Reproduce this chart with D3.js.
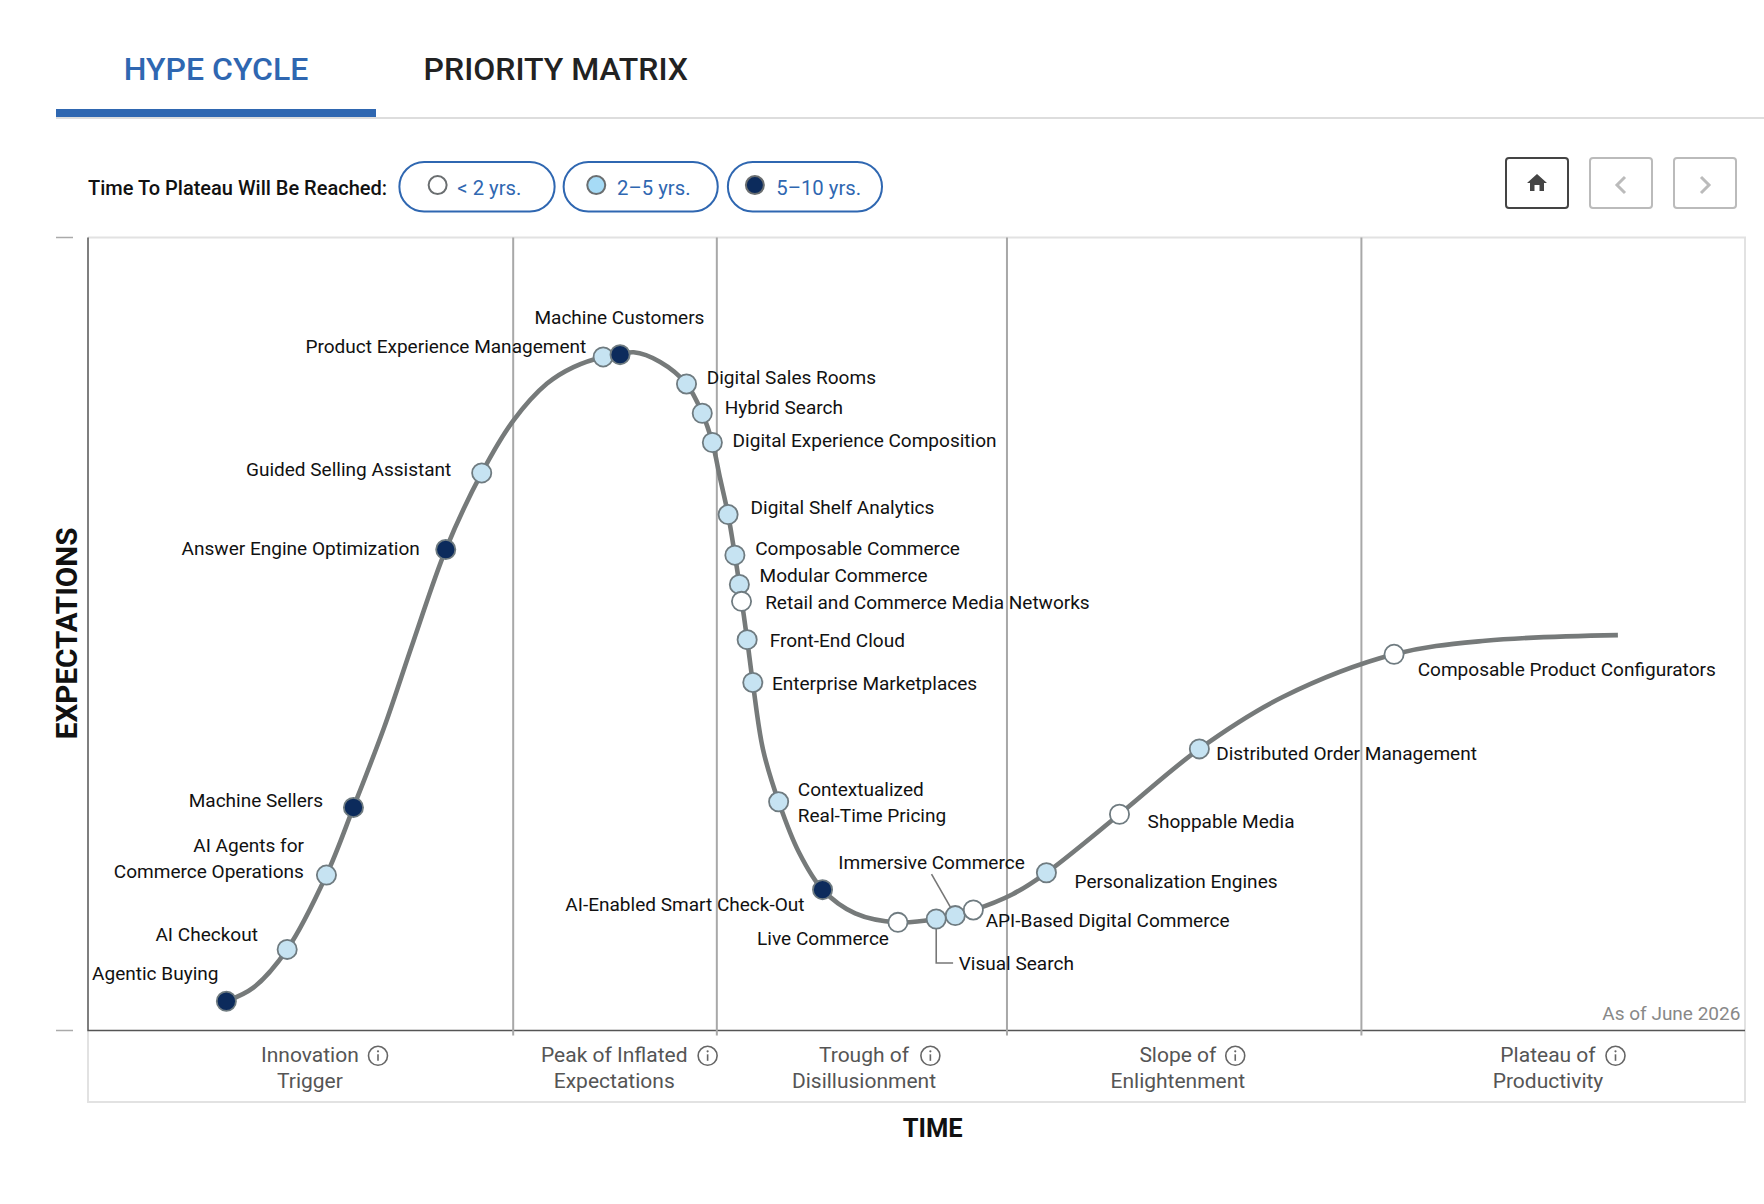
<!DOCTYPE html>
<html>
<head>
<meta charset="utf-8">
<script src="https://cdn.jsdelivr.net/npm/d3@7"></script>
<style>
body { margin: 0; background: #fff; }
svg { display: block; font-family: Roboto, sans-serif; }
</style>
</head>
<body>
<svg id="chart" width="1764" height="1204"></svg>
<script>
// the hype curve, time and expectations both 0-100
const curveX = [8.35, 9.98, 12.02, 14.39, 16.02, 17.87, 19.65, 21.59, 23.76, 25.68, 27.70, 29.30, 31.09, 32.11, 32.93, 34.53, 36.12, 37.07, 37.68, 38.15, 38.63, 39.04, 39.31, 39.78, 40.12, 40.73, 41.68, 42.91, 44.33, 46.30, 48.88, 51.19, 53.43, 55.80, 57.84, 62.25, 67.07, 72.10, 78.82, 84.32, 92.33];
const curveY = [3.69, 5.40, 10.23, 19.60, 28.13, 38.21, 49.16, 60.65, 70.31, 76.94, 81.58, 83.66, 84.94, 85.23, 85.52, 84.30, 81.53, 77.84, 74.15, 69.60, 65.06, 59.94, 56.25, 49.29, 43.89, 35.51, 28.84, 22.44, 17.76, 14.77, 13.64, 14.06, 15.20, 17.19, 19.89, 27.27, 35.51, 42.05, 47.44, 49.15, 49.86];

const techNames = ["Agentic Buying", "AI Checkout", "AI Agents for\nCommerce Operations", "Machine Sellers", "Answer Engine Optimization", "Guided Selling Assistant", "Product Experience Management", "Machine Customers", "Digital Sales Rooms", "Hybrid Search", "Digital Experience Composition", "Digital Shelf Analytics", "Composable Commerce", "Modular Commerce", "Retail and Commerce Media Networks", "Front-End Cloud", "Enterprise Marketplaces", "Contextualized\nReal-Time Pricing", "AI-Enabled Smart Check-Out", "Live Commerce", "Visual Search", "Immersive Commerce", "API-Based Digital Commerce", "Personalization Engines", "Shoppable Media", "Distributed Order Management", "Composable Product Configurators"];
const techX = [8.35, 12.02, 14.39, 16.02, 21.59, 23.76, 31.09, 32.11, 36.12, 37.07, 37.68, 38.63, 39.04, 39.31, 39.44, 39.78, 40.12, 41.68, 44.33, 48.88, 51.19, 52.34, 53.43, 57.84, 62.25, 67.07, 78.82];
const techY = [3.69, 10.23, 19.60, 28.13, 60.65, 70.31, 84.94, 85.23, 81.53, 77.84, 74.15, 65.06, 59.94, 56.25, 54.12, 49.29, 43.89, 28.84, 17.76, 13.64, 14.06, 14.49, 15.20, 19.89, 27.27, 35.51, 47.44];
// 0 = < 2 yrs, 1 = 2-5 yrs, 2 = 5-10 yrs
const techPlateau = [2, 1, 1, 2, 2, 1, 1, 2, 1, 1, 1, 1, 1, 1, 0, 1, 1, 1, 2, 0, 1, 1, 0, 1, 0, 1, 0];

const phaseBounds = [25.66, 37.95, 55.46, 76.85];
const phaseNames = [["Innovation", "Trigger"], ["Peak of Inflated", "Expectations"], ["Trough of", "Disillusionment"], ["Slope of", "Enlightenment"], ["Plateau of", "Productivity"]];
const plateauLabels = ["< 2 yrs.", "2–5 yrs.", "5–10 yrs."];

// label placement, offset from the marker, measured on the 1568 wide view
const labelDx = [-7, -26, -20, -27, -23, -27, -15, 75, 18, 20, 18, 20, 18, 18, 21, 20, 17, 17, -16, -8, 20, -104, 11, 25, 25, 15, 21];
const labelDy = [-25, -13, -26, -6, -1, -3, -9, -33, -6, -5, -2, -6, -6, -8, 1, 1, 1, -11, 13, 14, 39, -47, 9, 8, 6, 4, 13];
const labelEnd = [1, 1, 1, 1, 1, 1, 1, 1, 0, 0, 0, 0, 0, 0, 0, 0, 0, 0, 1, 1, 0, 0, 0, 0, 0, 0, 0];

const k = 1.125; // view px -> page px
const blue = "#2f67b1", lineGrey = "#767a7a", labelFont = 19.05;
const fills = ["#ffffff", "#c6e3f2", "#0c2b5c"];
const legendFills = ["#ffffff", "#a6dbf6", "#0c2b5c"];

const svg = d3.select("#chart");
const left = 88, right = 1745, top_ = 237.5, bottom = 1030.5, panelBottom = 1102;
const x = d3.scaleLinear().domain([0, 100]).range([left, right]);
const y = d3.scaleLinear().domain([0, 100]).range([bottom, top_]);

// tabs
svg.append("text").attr("x", 192 * k).attr("y", 61 * k).attr("dy", ".35em").attr("text-anchor", "middle")
	.attr("font-size", 32).attr("font-weight", 500).attr("fill", blue).text("HYPE CYCLE");
svg.append("text").attr("x", 494 * k).attr("y", 61 * k).attr("dy", ".35em").attr("text-anchor", "middle")
	.attr("font-size", 32).attr("font-weight", 500).attr("fill", "#222").text("PRIORITY MATRIX");
svg.append("rect").attr("x", 56).attr("y", 117).attr("width", 1764 - 56).attr("height", 2).attr("fill", "#ddd");
svg.append("rect").attr("x", 56).attr("y", 109).attr("width", 320).attr("height", 8).attr("fill", blue);

// legend
svg.append("text").attr("x", 78.2 * k).attr("y", 167 * k).attr("dy", ".35em")
	.attr("font-size", 20).attr("font-weight", 500).attr("fill", "#111").text("Time To Plateau Will Be Reached:");
const pillX = [355, 501, 647], pillW = [138, 137, 137], dotX = [389, 530, 671], pillTextX = [406.5, 548.5, 690];
plateauLabels.forEach(function(d, i){
	svg.append("rect").attr("x", pillX[i] * k).attr("y", 144 * k).attr("width", pillW[i] * k).attr("height", 44 * k)
		.attr("rx", 22 * k).attr("fill", "#fff").attr("stroke", blue).attr("stroke-width", 2);
	svg.append("circle").attr("cx", dotX[i] * k).attr("cy", 164.5 * k).attr("r", 9)
		.attr("fill", legendFills[i]).attr("stroke", "#6a6e70").attr("stroke-width", 2);
	svg.append("text").attr("x", pillTextX[i] * k).attr("y", 167 * k).attr("dy", ".35em")
		.attr("font-size", 20.3).attr("fill", blue).text(d);
});

// nav buttons
const btnX = [1506, 1590, 1674], btnColor = ["#444", "#bbb", "#bbb"];
btnX.forEach(function(bx, i){
	svg.append("rect").attr("x", bx).attr("y", 158).attr("width", 62).attr("height", 50).attr("rx", 3)
		.attr("fill", "#fff").attr("stroke", btnColor[i]).attr("stroke-width", 2);
});
svg.append("path").attr("transform", "translate(1537,183)")
	.attr("d", "M-10,0 L0,-9 L10,0 L7,0 L7,8 L2.5,8 L2.5,2 L-2.5,2 L-2.5,8 L-7,8 L-7,0 Z").attr("fill", "#444");
svg.append("path").attr("d", "M1625,177 L1617,185 L1625,193").attr("fill", "none").attr("stroke", "#bbb").attr("stroke-width", 3);
svg.append("path").attr("d", "M1701,177 L1709,185 L1701,193").attr("fill", "none").attr("stroke", "#bbb").attr("stroke-width", 3);

// frame
svg.append("path").attr("d", `M${left},${top_} H${right} V${panelBottom} H${left} V${bottom}`)
	.attr("fill", "none").attr("stroke", "#e2e2e2").attr("stroke-width", 2);
svg.append("path").attr("d", `M${left},${top_} V${bottom} H${right}`)
	.attr("fill", "none").attr("stroke", "#555").attr("stroke-width", 1.5);
svg.selectAll("line.tick").data([top_, bottom]).join("line").attr("class", "tick")
	.attr("x1", 56).attr("x2", 73).attr("y1", d => d).attr("y2", d => d)
	.attr("stroke", "#aaa").attr("stroke-width", 1.5);

// phase dividers
svg.selectAll("line.phase").data(phaseBounds).join("line").attr("class", "phase")
	.attr("x1", d => x(d)).attr("x2", d => x(d)).attr("y1", top_).attr("y2", bottom + 5)
	.attr("stroke", "#a8a8a8").attr("stroke-width", 2);

// phase names, each with an info icon
const phaseCx = [275.5, 546, 768, 1047, 1376], iconX = [336, 629, 827, 1098, 1436];
phaseNames.forEach(function(lines, i){
	lines.forEach(function(t, j){
		svg.append("text").attr("x", phaseCx[i] * k).attr("y", (937.8 + j * 23) * k).attr("dy", ".35em")
			.attr("text-anchor", "middle").attr("font-size", 21).attr("fill", "#555").text(t);
	});
	const icon = svg.append("g").attr("transform", `translate(${iconX[i] * k},${938.5 * k})`);
	icon.append("circle").attr("r", 9.5).attr("fill", "none").attr("stroke", "#666").attr("stroke-width", 1.6);
	icon.append("circle").attr("cy", -4.5).attr("r", 1.1).attr("fill", "#666");
	icon.append("line").attr("y1", -1.5).attr("y2", 5).attr("stroke", "#666").attr("stroke-width", 1.6);
});

// axis titles
svg.append("text").attr("transform", `translate(${59.5 * k},${563 * k}) rotate(-90)`).attr("dy", ".35em").attr("text-anchor", "middle")
	.attr("font-size", 29.6).attr("font-weight", 700).attr("fill", "#111").text("EXPECTATIONS");
svg.append("text").attr("x", 829 * k).attr("y", 1003 * k).attr("dy", ".35em").attr("text-anchor", "middle")
	.attr("font-size", 25.5).attr("font-weight", 700).attr("fill", "#111").text("TIME");
svg.append("text").attr("x", 1547 * k).attr("y", 901 * k).attr("dy", ".35em").attr("text-anchor", "end")
	.attr("font-size", 19).attr("fill", "#888").text("As of June 2026");

// curve
const curveLine = d3.line().x(d => x(d[0])).y(d => y(d[1])).curve(d3.curveCatmullRom.alpha(0.5));
svg.append("path").datum(d3.zip(curveX, curveY)).attr("d", curveLine)
	.attr("fill", "none").attr("stroke", lineGrey).attr("stroke-width", 4.6);

// leader lines for the two labels away from the curve
const iVisual = techNames.indexOf("Visual Search"), iImm = techNames.indexOf("Immersive Commerce");
svg.append("path").attr("d", `M${x(techX[iVisual])},${y(techY[iVisual])} V${856 * k} h${15 * k}`)
	.attr("fill", "none").attr("stroke", "#777").attr("stroke-width", 1.6);
svg.append("path").attr("d", `M${x(techX[iImm])},${y(techY[iImm])} L${828 * k},${777 * k}`)
	.attr("fill", "none").attr("stroke", "#777").attr("stroke-width", 1.6);

// markers
svg.append("g").selectAll("circle").data(techNames).join("circle")
	.attr("cx", (d, i) => x(techX[i])).attr("cy", (d, i) => y(techY[i])).attr("r", 9.6)
	.attr("fill", (d, i) => fills[techPlateau[i]])
	.attr("stroke", "#6f7b80").attr("stroke-width", 1.8);

// labels
techNames.forEach(function(name, i){
	const lines = name.split("\n");
	const t = svg.append("text")
		.attr("text-anchor", labelEnd[i] ? "end" : "start")
		.attr("font-size", labelFont).attr("fill", "#111");
	lines.forEach(function(s, j){
		t.append("tspan").attr("x", x(techX[i]) + labelDx[i] * k)
			.attr("y", y(techY[i]) + (labelDy[i] + j * 23) * k).attr("dy", ".35em").text(s);
	});
});
</script>
</body>
</html>
